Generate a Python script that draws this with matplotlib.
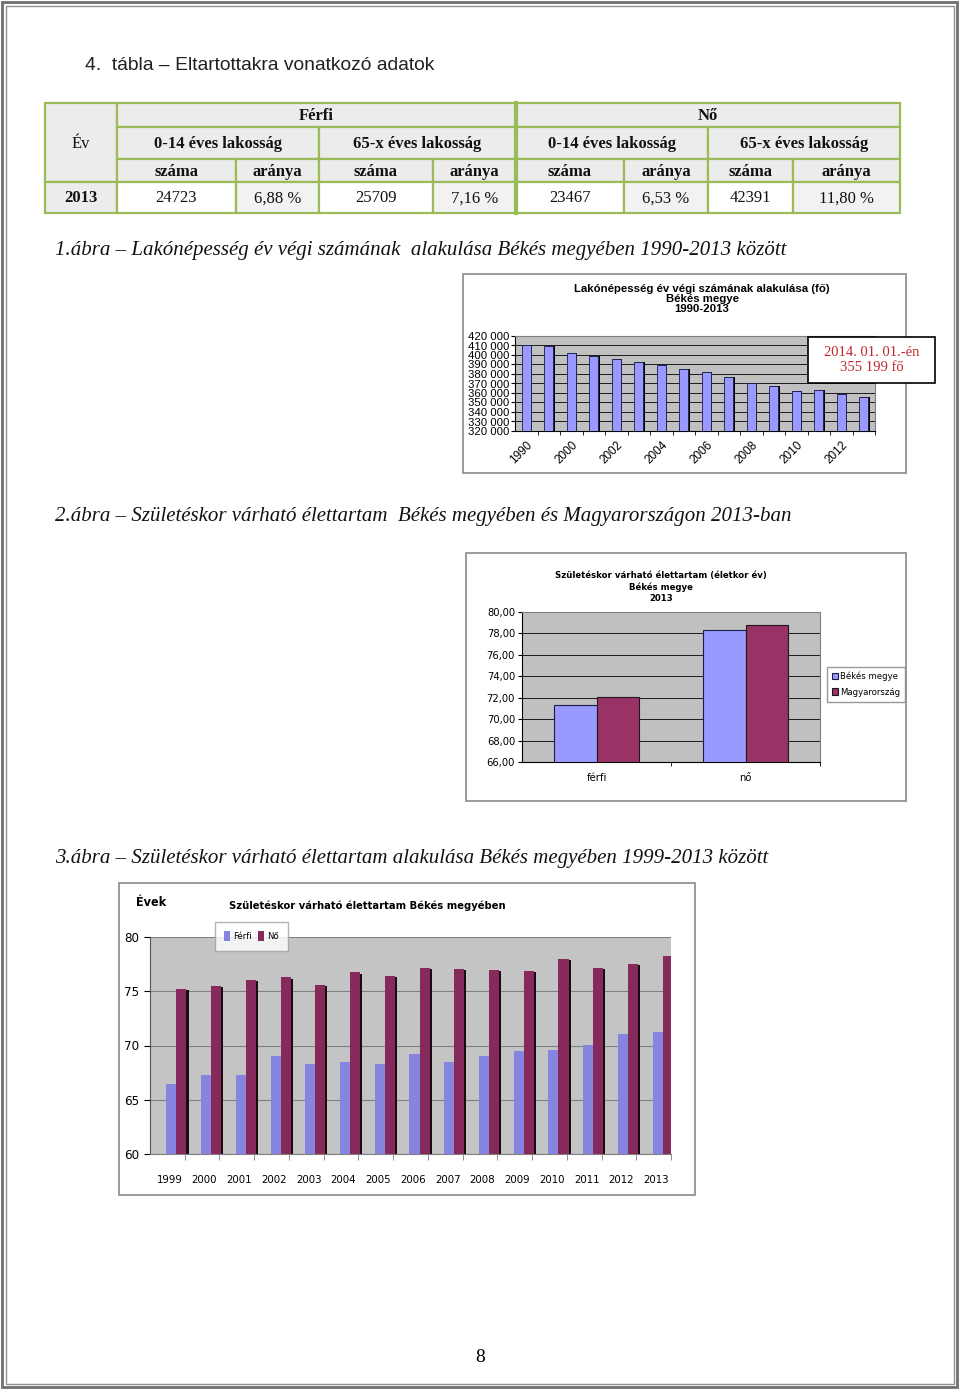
import matplotlib
matplotlib.use("Agg")
import matplotlib.pyplot as plt
from matplotlib.patches import Rectangle
import numpy as np

# table 4
col_groups = ["Férfi", "Nő"]
age_groups = ["0-14 éves lakosság", "65-x éves lakosság"]
sub_heads = ["száma", "aránya"]
table_year = "2013"
table_row = ["24723", "6,88 %", "25709", "7,16 %", "23467", "6,53 %", "42391", "11,80 %"]

# chart 1 - population at year end
pop_years = ["1990", "1995", "2000", "2001", "2002", "2003", "2004", "2005",
             "2006", "2007", "2008", "2009", "2010", "2011", "2012", "2013"]
pop_values = [410200, 409600, 402200, 399000, 395900, 392400, 389200, 385700,
              381900, 376600, 371000, 366900, 362300, 362700, 358800, 355700]

# chart 2 - life expectancy 2013
le_cats = ["férfi", "nő"]
le_bekes = [71.35, 78.30]
le_hu = [72.05, 78.75]

# chart 3 - life expectancy 1999-2013
le_years = ["1999", "2000", "2001", "2002", "2003", "2004", "2005", "2006",
            "2007", "2008", "2009", "2010", "2011", "2012", "2013"]
le_ferfi = [66.47, 67.27, 67.27, 69.05, 68.31, 68.50, 68.31, 69.26,
            68.50, 69.05, 69.50, 69.63, 70.06, 71.07, 71.29]
le_no = [75.21, 75.52, 76.07, 76.29, 75.61, 76.75, 76.41, 77.18,
         77.09, 76.96, 76.87, 77.98, 77.18, 77.55, 78.28]

W, H = 960, 1390
SERIF = "Liberation Serif"
SANS = "Liberation Sans"
NARROW = "DejaVu Sans"

fig = plt.figure(figsize=(W / 100, H / 100), dpi=100)
fig.patch.set_facecolor("white")


def add_ax(x0, y0, x1, y1):
    return fig.add_axes([x0 / W, 1 - y1 / H, (x1 - x0) / W, (y1 - y0) / H])


def narrow(size, bold=False):
    return {"family": NARROW, "size": size, "stretch": "condensed",
            "weight": "bold" if bold else "normal"}


# page background axes in pixel coords
pg = add_ax(0, 0, W, H)
pg.set_xlim(0, W)
pg.set_ylim(H, 0)
pg.axis("off")

pg.add_patch(Rectangle((2, 2), 955, 1385, fill=False, ec="#707070", lw=2))
pg.add_patch(Rectangle((5.5, 5.5), 948, 1378, fill=False, ec="#909090", lw=1))

pg.text(85, 66, "4.  tábla – Eltartottakra vonatkozó adatok", fontsize=13.9,
        family=SANS, color="#222222", va="center")

# ---- table ----
xs = [45, 117, 236, 319, 433, 516, 624, 708, 793, 900]
ys = [103, 127, 159, 182, 213]
green = "#9bbb59"
hdr = "#ececec"


def cell(x0, x1, y0, y1, txt, fc, bold=True, size=12):
    pg.add_patch(Rectangle((x0, y0), x1 - x0, y1 - y0, fc=fc, ec=green, lw=1.6))
    pg.text((x0 + x1) / 2, (y0 + y1) / 2 + 1, txt, ha="center", va="center",
            family=SERIF, fontsize=size, fontweight="bold" if bold else "normal",
            color="#111111")


cell(xs[0], xs[1], ys[0], ys[3], "Év", hdr, bold=False)
for g, name in enumerate(col_groups):
    cell(xs[1 + 4 * g], xs[5 + 4 * g], ys[0], ys[1], name, hdr)
    for a, age in enumerate(age_groups):
        i = 1 + 4 * g + 2 * a
        cell(xs[i], xs[i + 2], ys[1], ys[2], age, hdr)
        for s, sub in enumerate(sub_heads):
            cell(xs[i + s], xs[i + s + 1], ys[2], ys[3], sub, hdr)
cell(xs[0], xs[1], ys[3], ys[4], table_year, hdr)
for j, val in enumerate(table_row):
    cell(xs[j + 1], xs[j + 2], ys[3], ys[4], val,
         "white" if j % 2 == 0 else "#f2f2f2", bold=False)
pg.plot([xs[5], xs[5]], [ys[0], ys[4]], color=green, lw=3)

# captions
cap_kw = dict(family=SERIF, fontsize=15, style="italic", color="#111111", va="center")
pg.text(55, 251, "1.ábra – Lakónépesség év végi számának  alakulása Békés megyében 1990-2013 között", **cap_kw)
pg.text(55, 517, "2.ábra – Születéskor várható élettartam  Békés megyében és Magyarországon 2013-ban", **cap_kw)
pg.text(55, 858, "3.ábra – Születéskor várható élettartam alakulása Békés megyében 1999-2013 között", **cap_kw)
pg.text(480, 1357, "8", family=SERIF, fontsize=14, ha="center", va="center")

# chart frames
pg.add_patch(Rectangle((463, 274), 443, 199, fill=False, ec="#8a8a8a", lw=1.2))
pg.add_patch(Rectangle((466, 553), 440, 248, fill=False, ec="#8a8a8a", lw=1.2))
pg.add_patch(Rectangle((119, 883), 576, 312, fill=False, ec="#8a8a8a", lw=1.2))

pg.text(702, 299, "Lakónépesség év végi számának alakulása (fő)\nBékés megye\n1990-2013",
        ha="center", va="center", family=SANS, fontsize=8.2, fontweight="bold",
        linespacing=0.95)
pg.text(661, 587, "Születéskor várható élettartam (életkor év)\nBékés megye\n2013",
        ha="center", va="center", linespacing=1.25, fontdict=narrow(6.8, True))
pg.text(136, 903, "Évek", ha="left", va="center", fontdict=narrow(9, True))
pg.text(367, 906, "Születéskor várható élettartam Békés megyében", ha="center",
        va="center", fontdict=narrow(8, True))

# ---- chart 1 ----
ax1 = add_ax(515, 336, 875, 431)
x1 = np.arange(len(pop_years))
ax1.set_facecolor("#c0c0c0")
ax1.bar(x1 + 0.06, pop_values, width=0.42, color="black", zorder=2)
ax1.bar(x1, pop_values, width=0.42, color="#9999ff", edgecolor="#1a1a4d", lw=0.6, zorder=3)
ax1.set_xlim(-0.5, len(pop_years) - 0.5)
ax1.set_ylim(320000, 420000)
ax1.set_yticks(np.arange(320000, 420001, 10000))
ax1.set_yticklabels([f"{int(v):,}".replace(",", " ") for v in np.arange(320000, 420001, 10000)],
                    family=SANS, fontsize=8.2)
ax1.yaxis.grid(True, color="black", lw=0.6)
ax1.set_axisbelow(True)
ax1.set_xticks(x1[::2])
ax1.set_xticklabels(pop_years[::2], rotation=45, ha="right", family=SANS, fontsize=8.5,
                    rotation_mode="anchor")
ax1.set_xticks(x1 + 0.5, minor=True)
ax1.tick_params(axis="x", which="major", length=0, pad=6)
ax1.tick_params(axis="x", which="minor", length=3)
ax1.tick_params(axis="y", length=3, pad=1)
for s in ax1.spines.values():
    s.set_color("#808080")
ax1.spines["left"].set_color("black")
ax1.spines["bottom"].set_color("black")

# ---- chart 2 ----
ax2 = add_ax(522, 612, 820, 762)
x2 = np.arange(len(le_cats))
bw = 1 / 3.5
ax2.set_facecolor("#c0c0c0")
ax2.bar(x2 - bw / 2, le_bekes, width=bw, color="#9999ff", edgecolor="#1a1a4d", lw=0.8,
        label="Békés megye", zorder=3)
ax2.bar(x2 + bw / 2, le_hu, width=bw, color="#993366", edgecolor="#1a1a1a", lw=0.8,
        label="Magyarország", zorder=3)
ax2.set_xlim(-0.5, len(le_cats) - 0.5)
ax2.set_ylim(66, 80)
ax2.set_yticks(np.arange(66, 80.1, 2))
ax2.set_yticklabels([f"{v:.2f}".replace(".", ",") for v in np.arange(66, 80.1, 2)],
                    fontdict=narrow(8))
ax2.yaxis.grid(True, color="black", lw=0.6)
ax2.set_axisbelow(True)
ax2.set_xticks(x2)
ax2.set_xticklabels(le_cats, fontdict=narrow(8))
ax2.set_xticks(x2 + 0.5, minor=True)
ax2.tick_params(axis="x", which="major", length=0, pad=8)
ax2.tick_params(axis="x", which="minor", length=3)
ax2.tick_params(axis="y", length=3, pad=2)
for s in ax2.spines.values():
    s.set_color("#808080")
ax2.spines["left"].set_color("black")
ax2.spines["bottom"].set_color("black")
ax2.legend(loc="upper left", bbox_to_anchor=(827 / W, 1 - 667 / H),
           bbox_transform=fig.transFigure, prop=narrow(6.8),
           frameon=True, fancybox=False, edgecolor="#808080", handlelength=0.7,
           handleheight=0.7, handletextpad=0.2, borderpad=0.5, labelspacing=0.7,
           borderaxespad=0)

# ---- chart 3 ----
ax3 = add_ax(150, 937, 671, 1154)
x3 = np.arange(len(le_years))
w3 = 0.29
off = 0.26
ax3.set_facecolor("#c4c4c4")
ax3.bar(x3 + off - w3 / 2 + 0.05, np.array(le_ferfi) - 0.12, width=w3, color="#2a2a55", zorder=2)
ax3.bar(x3 + off + w3 / 2 + 0.06, np.array(le_no) - 0.12, width=w3, color="#1a0a12", zorder=2)
ax3.bar(x3 + off - w3 / 2, le_ferfi, width=w3, color="#8585e0", label="Férfi", zorder=3)
ax3.bar(x3 + off + w3 / 2, le_no, width=w3, color="#862a5c", label="Nő", zorder=3)
ax3.set_xlim(-0.5, len(le_years) - 0.5)
ax3.set_ylim(60, 80)
ax3.set_yticks([60, 65, 70, 75, 80])
ax3.set_yticklabels(["60", "65", "70", "75", "80"], fontdict=narrow(9.5))
ax3.yaxis.grid(True, color="#808080", lw=0.8)
ax3.set_axisbelow(True)
ax3.set_xticks(x3 + 0.07)
ax3.set_xticklabels(le_years, fontdict=narrow(8.2))
ax3.set_xticks(x3 + 0.5, minor=True)
ax3.tick_params(axis="x", which="major", length=0, pad=15)
ax3.tick_params(axis="x", which="minor", length=4, color="#808080")
ax3.tick_params(axis="y", length=4, pad=4)
for s in ax3.spines.values():
    s.set_visible(False)
ax3.spines["left"].set_visible(True)
ax3.spines["left"].set_color("#555555")
ax3.spines["bottom"].set_visible(True)
ax3.spines["bottom"].set_color("#808080")
ax3.legend(loc="upper left", bbox_to_anchor=(215 / W, 1 - 922 / H),
           bbox_transform=fig.transFigure, prop=narrow(6.8),
           ncol=2, frameon=True, fancybox=False, edgecolor="#a0a0a0",
           handlelength=0.6, handleheight=1.1, handletextpad=0.3, columnspacing=0.7,
           borderpad=1.0, borderaxespad=0)

# annotation box on top of chart 1
ov = add_ax(0, 0, W, H)
ov.set_xlim(0, W)
ov.set_ylim(H, 0)
ov.axis("off")
ov.patch.set_alpha(0)
ov.add_patch(Rectangle((808, 337), 127, 46, fc="white", ec="black", lw=1.2))
ov.text(871.5, 360, "2014. 01. 01.-én\n355 199 fő", ha="center", va="center",
        family=SERIF, fontsize=10.5, color="#c0272d", linespacing=1.15)

fig.savefig("out.png", dpi=100)
